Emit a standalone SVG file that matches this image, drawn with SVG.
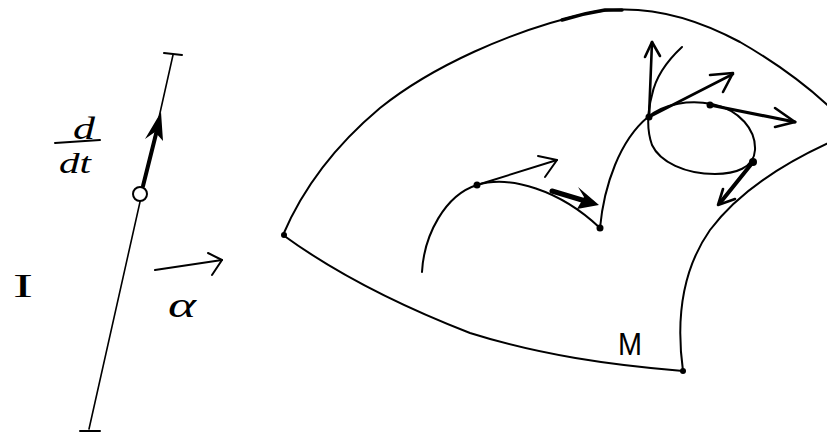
<svg xmlns="http://www.w3.org/2000/svg" width="827" height="433" viewBox="0 0 827 433">
<style>
.ln{fill:none;stroke:#000;stroke-width:2;stroke-linecap:round;stroke-linejoin:round}
.th{fill:none;stroke:#000;stroke-width:4;stroke-linecap:round;stroke-linejoin:round}
.md{fill:none;stroke:#000;stroke-width:2.6;stroke-linecap:round;stroke-linejoin:round}
.dot{fill:#000}
.tx{font-family:"Liberation Serif",serif;font-style:italic;fill:#000}
</style>
<rect width="827" height="433" fill="#fff"/>
<g id="interval">
<line class="ln" x1="173" y1="55" x2="89" y2="429" style="stroke-width:1.6"/>
<line class="ln" x1="164" y1="53" x2="182" y2="55"/>
<line class="ln" x1="80" y1="431" x2="100" y2="431"/>
<line class="th" x1="143" y1="186" x2="158" y2="126"/>
<polygon class="dot" points="161,112 145,139 155,132 163,141"/>
<circle cx="140" cy="194" r="7" fill="#fff" stroke="#000" stroke-width="2"/>
</g>
<g id="labels">
<text class="tx" x="73" y="138.5" font-size="32" textLength="22" lengthAdjust="spacingAndGlyphs">d</text>
<line class="ln" x1="55" y1="143" x2="100" y2="140"/>
<text class="tx" x="59" y="173" font-size="30" textLength="32" lengthAdjust="spacingAndGlyphs">dt</text>
<text x="13" y="297" font-family="Liberation Serif, serif" font-size="34" fill="#000" textLength="20" lengthAdjust="spacingAndGlyphs">I</text>
<text class="tx" x="168" y="317" font-size="36" textLength="28" lengthAdjust="spacingAndGlyphs">α</text>
<text id="M" x="618" y="355" font-family="Liberation Sans, sans-serif" font-size="31" fill="#000" textLength="24" lengthAdjust="spacingAndGlyphs">M</text>
</g>
<g id="map-arrow">
<polyline class="ln" points="155,270 222,260"/>
<polyline class="ln" points="208,253 222,260 212,275"/>
</g>
<g id="manifold">
<path class="ln" d="M283,235 C300,195 330,150 380,108 C430,68 510,30 593,12 C640,4 690,15 740,42 C780,65 810,88 835,112"/>
<path class="ln" d="M562,20 C578,15 592,12 605,10 L622,10" style="stroke-width:3.5"/>
<path class="ln" d="M283,235 C320,262 380,298 470,333 C540,355 610,365 683,371"/>
<path class="ln" d="M683,371 C676,320 682,270 710,230 C740,190 790,160 835,140"/>
<circle class="dot" cx="284" cy="235" r="3"/>
<circle class="dot" cx="683" cy="371" r="3"/>
</g>
<g id="curve">
<path class="ln" d="M422,272 C424,235 445,195 477,185 C510,175 560,190 600,228 C604,185 620,140 648,117 C665,103 690,100 712,104 C740,110 756,130 755,150 C754,168 735,174 715,174 C685,174 660,162 652,145 C646,128 648,110 652,95 C656,75 668,60 682,47"/>
<circle class="dot" cx="477" cy="185" r="3.5"/>
<circle class="dot" cx="600" cy="228" r="3.5"/>
<circle class="dot" cx="649" cy="117" r="3.5"/>
<circle class="dot" cx="710" cy="105" r="3.5"/>
<circle class="dot" cx="753" cy="162" r="4"/>
</g>
<g id="vectors">
<polyline class="ln" points="477,185 557,160"/>
<polyline class="ln" points="538,156 557,160 545,177"/>
<polyline class="th" points="552,191 592,203" style="stroke-width:5"/>
<polygon class="dot" points="599,205 578,187 584,197 577,209"/>
<polyline class="md" points="649,117 652,42"/>
<polyline class="md" points="645,57 652,42 660,56"/>
<polyline class="md" points="649,117 733,74"/>
<polyline class="md" points="710,75 733,73 723,92"/>
<polyline class="md" points="710,105 795,122" style="stroke-width:3.2"/>
<polyline class="md" points="775,108 795,122 775,127"/>
<polyline class="th" points="753,162 720,203"/>
<polyline class="md" points="723,189 718,205 735,199"/>
</g>
</svg>
